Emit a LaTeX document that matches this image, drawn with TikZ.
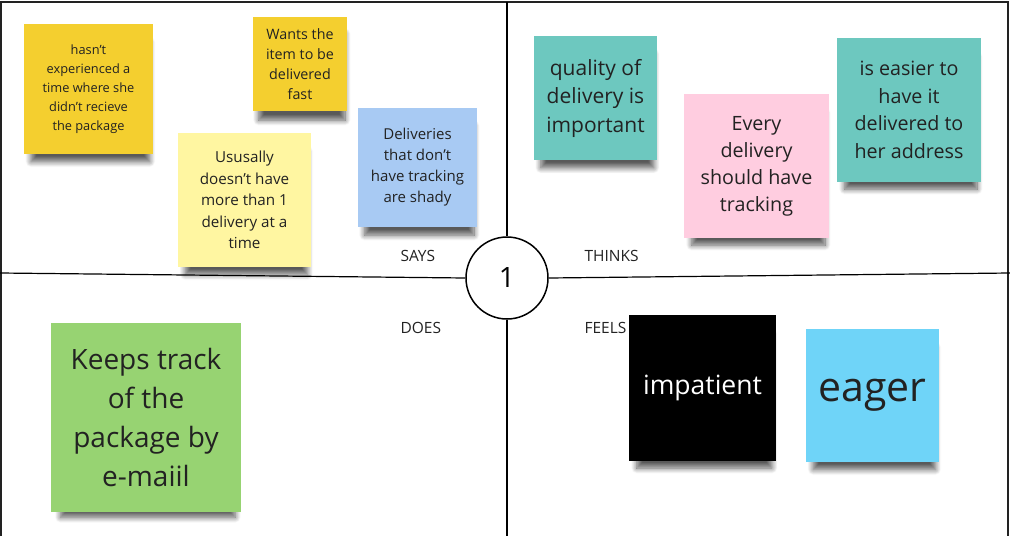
\documentclass[tikz,border=0pt]{standalone}
\usepackage{fontspec}
\setmainfont{Open Sans}[Ligatures=ResetAll]
\usetikzlibrary{positioning,shadows.blur}

\definecolor{notegold}{HTML}{F4CF2F}
\definecolor{notecream}{HTML}{FFF6A1}
\definecolor{noteblue}{HTML}{A8CAF3}
\definecolor{noteteal}{HTML}{6DC8BF}
\definecolor{notepink}{HTML}{FFCDE0}
\definecolor{notegreen}{HTML}{97D372}
\definecolor{notesky}{HTML}{6FD4F8}
\definecolor{inkgray}{HTML}{222222}

\tikzset{
  note/.style={rectangle, inner sep=0pt, align=center, text=inkgray,
    blur shadow={shadow xshift=2pt, shadow yshift=-14pt, shadow scale=0.92,
      shadow opacity=65, shadow blur steps=10, shadow blur radius=6pt}},
  quad/.style={anchor=west, text=inkgray, font=\fontsize{15.5}{18}\selectfont},
  sz/.style 2 args={font=\fontsize{#1}{#2}\selectfont},
}

\begin{document}
\begin{tikzpicture}[x=1pt,y=-1pt]
  \useasboundingbox (0,0) rectangle (1010,536);
  % frame
  \draw[line width=2pt,inkgray] (1,536) -- (1,2) -- (1008,2) -- (1008,536);
  \coordinate (w) at (0,273); \coordinate (e) at (1010,273);
  \coordinate (n) at (507,2); \coordinate (s) at (507,536);
  \node[circle, draw, line width=1.5pt, minimum size=82pt, inner sep=0pt,
        sz={28}{30}] (one) at (507,278) {1};
  \draw[line width=1.2pt] (w) -- (one.west) (one.east) -- (e);
  \draw[line width=1.2pt] (n) -- (one.north) (one.south) -- (s);
  \node[quad] (says) at (397,256) {SAYS};
  \node[quad] (thinks) at (581,256) {THINKS};
  \node[quad] (does) at (397,328) {DOES};
  \node[quad] (feels) at (581,328) {FEELS};

  % says
  \node[note, fill=notegold, minimum width=129pt, minimum height=130pt, sz={12.8}{19}]
    (hasnt) at (88.5,89) {hasn't\\experienced a\\time where she\\didn't recieve\\the package};
  \node[note, fill=notegold, minimum width=94pt, minimum height=94pt, sz={14.3}{20}]
    (wants) at (300,64) {Wants the\\item to be\\delivered\\fast};
  \node[note, fill=notecream, minimum width=133pt, minimum height=134pt, sz={15.2}{21.5}]
    (usually) at (244.5,200) {Ususally\\doesn't have\\more than 1\\delivery at a\\time};
  \node[note, fill=noteblue, minimum width=119pt, minimum height=119pt, sz={15}{21}]
    (shady) at (417.5,167.5) {Deliveries\\that don't\\have tracking\\are shady};
  % thinks
  \node[note, fill=noteteal, minimum width=123pt, minimum height=124pt, sz={21}{28.5}]
    (quality) at (595.5,98) {quality of\\delivery is\\important};
  \node[note, fill=notepink, minimum width=145pt, minimum height=144pt, sz={19.7}{27}]
    (every) at (756.5,166) {Every\\delivery\\should have\\tracking};
  \node[note, fill=noteteal, minimum width=144pt, minimum height=144pt, sz={19.7}{27.5}]
    (easier) at (909,110) {is easier to\\have it\\delivered to\\her address};
  % does
  \node[note, fill=notegreen, minimum width=190pt, minimum height=189pt, sz={28}{39}]
    (keeps) at (146,417.5) {Keeps track\\of the\\package by\\e-maiil};
  % feels
  \node[note, fill=black, text=white, minimum width=147pt, minimum height=146pt, sz={26.5}{30}]
    (impatient) at (702.5,388) {impatient};
  \node[note, fill=notesky, minimum width=133pt, minimum height=133pt, sz={41}{44}]
    (eager) at (872.5,395.5) {eager};
\end{tikzpicture}
\end{document}
